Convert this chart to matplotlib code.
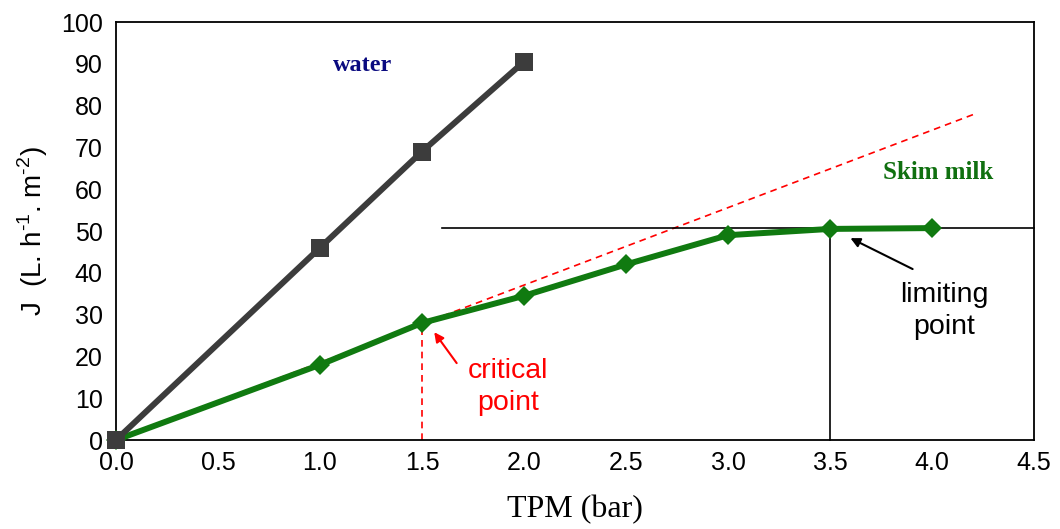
import matplotlib
matplotlib.use("Agg")
import matplotlib.pyplot as plt

# Data
tpm_water = [0.0, 1.0, 1.5, 2.0]
flux_water = [0.0, 46.0, 69.0, 90.5]
tpm_milk = [0.0, 1.0, 1.5, 2.0, 2.5, 3.0, 3.5, 4.0]
flux_milk = [0.0, 18.0, 28.0, 34.5, 42.0, 49.0, 50.5, 50.7]
crit_line_x = [0.0, 4.22]
crit_line_y = [0.0, 78.2]
crit_x, crit_y = 1.5, 28.0
limit_x, limit_y = 3.5, 50.8
limit_line_xstart = 1.6
xticks = [0.0, 0.5, 1.0, 1.5, 2.0, 2.5, 3.0, 3.5, 4.0, 4.5]
yticks = list(range(0, 101, 10))

plt.rcParams['font.family'] = ['Liberation Sans', 'DejaVu Sans']

fig = plt.figure(figsize=(10.6, 5.29), dpi=100)
ax = fig.add_axes([0.1094, 0.1682, 0.8661, 0.7902])

# red dashed critical line
ax.plot(crit_line_x, crit_line_y, color='#ff0000', lw=1.2, ls=(0, (4, 3)), zorder=2)
ax.plot([crit_x, crit_x], [0, crit_y], color='#ff0000', lw=1.2, ls=(0, (4, 3)), zorder=2)
# limiting lines
ax.plot([limit_line_xstart, 4.5], [limit_y, limit_y], color='black', lw=1.2, zorder=2)
ax.plot([limit_x, limit_x], [0, limit_y], color='black', lw=1.2, zorder=2)

ax.plot(tpm_milk, flux_milk, color='#107a10', lw=4.3, marker='D', ms=10.5,
        markeredgewidth=0, zorder=3)
ax.plot(tpm_water, flux_water, color='#3c3c3c', lw=4.3, marker='s', ms=13,
        markeredgewidth=0, zorder=4)

ax.set_xlim(0, 4.5)
ax.set_ylim(0, 100)
ax.set_xticks(xticks)
ax.set_xticklabels([f"{v:.1f}" for v in xticks])
ax.set_yticks(yticks)
ax.tick_params(axis='both', length=0, labelsize=18)
ax.tick_params(axis='y', pad=9.5)
ax.tick_params(axis='x', pad=8)
for s in ax.spines.values():
    s.set_linewidth(1.3)
    s.set_color('black')
for ln in ax.lines:
    ln.set_clip_on(False)

ax.set_ylabel("J  (L. h$^{\\mathregular{\u20101}}$. m$^{\\mathregular{\u20102}}$)",
              fontsize=20, labelpad=8)
ax.set_xlabel("TPM (bar)", fontsize=23, family=['Liberation Serif'], labelpad=14)

ax.text(1.21, 89.5, "water", color='#0a0a80', fontsize=17.5, fontweight='bold',
        family=['Liberation Serif'], ha='center', va='center')
ax.text(4.03, 64, "Skim milk", color='#107010', fontsize=18, fontweight='bold',
        family=['Liberation Serif'], ha='center', va='center')

# annotations
ax.text(1.92, 12.7, "critical\npoint", color='#ff0000', fontsize=20.5,
        ha='center', va='center', linespacing=1.27)
ax.annotate("", xy=(1.56, 25.8), xytext=(1.67, 18.4),
            arrowprops=dict(arrowstyle='-|>', color='#ff0000', lw=1.5,
                            shrinkA=0, shrinkB=0, mutation_scale=14))
ax.text(4.06, 30.9, "limiting\npoint", color='black', fontsize=20.5,
        ha='center', va='center', linespacing=1.27)
ax.annotate("", xy=(3.60, 48.3), xytext=(3.905, 40.9),
            arrowprops=dict(arrowstyle='-|>', color='black', lw=1.5,
                            shrinkA=0, shrinkB=0, mutation_scale=14))

fig.savefig("out.png", dpi=100)
